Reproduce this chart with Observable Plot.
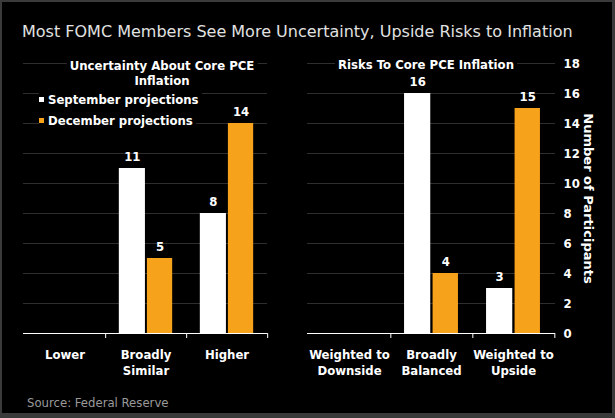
<!DOCTYPE html>
<html>
<head>
<meta charset="utf-8">
<script src="https://cdn.jsdelivr.net/npm/d3@7"></script>
<script src="https://cdn.jsdelivr.net/npm/@observablehq/plot@0.6"></script>
<style>
  html, body { margin: 0; padding: 0; background: #3a3a3a; }
  #frame { position: absolute; left: 2px; top: 2px; width: 610px; height: 411px; background: #000; overflow: hidden; }
  #wrap { position: absolute; left: -2px; top: -2px; width: 615px; height: 418px; }
  .abs { position: absolute; white-space: nowrap; }
  .title { left: 22px; top: 22px; font: 16px "DejaVu Sans", sans-serif; color: #e2e2e2; }
  .ptitle { font: bold 13px "DejaVu Sans Condensed", "DejaVu Sans", sans-serif; color: #fff; background: #000; text-align: center; padding: 0 3px; line-height: 15px; transform: translateX(-50%); }
  .legend { font: bold 13px "DejaVu Sans Condensed", "DejaVu Sans", sans-serif; color: #fff; background: #000; line-height: 15px; padding-right: 3px; }
  .sw { display: inline-block; width: 5px; height: 5px; margin-right: 4px; vertical-align: middle; position: relative; top: -1px; }
  .source { left: 27px; top: 395px; font: 13px "DejaVu Sans Condensed", "DejaVu Sans", sans-serif; color: #9a9a9a; }
  svg { position: absolute; left: 0; top: 0; }
</style>
</head>
<body>
<div id="frame"><div id="wrap"></div></div>
<script>
// ---- data ----
const leftTitle = "Uncertainty About Core PCE\nInflation";
const rightTitle = "Risks To Core PCE Inflation";
const seriesNames = ["September projections", "December projections"];
const leftCats = ["Lower", "Broadly\nSimilar", "Higher"];
const leftSep = [0, 11, 8];
const leftDec = [0, 5, 14];
const rightCats = ["Weighted to\nDownside", "Broadly\nBalanced", "Weighted to\nUpside"];
const rightSep = [0, 16, 3];
const rightDec = [0, 4, 15];
const yTicks = [0, 2, 4, 6, 8, 10, 12, 14, 16, 18];
const yLabel = "Number of Participants";
const titleText = "Most FOMC Members See More Uncertainty, Upside Risks to Inflation";
const sourceText = "Source: Federal Reserve";

const WHITE = "#ffffff", ORANGE = "#f7a21b", GRID = "#2e2e2e";
const W = 615, H = 418, MT = 63, MB = 85;
const FONT = '"DejaVu Sans Condensed", "DejaVu Sans", sans-serif';

function panel(cats, sep, dec, ml, mr, withAxis) {
  const data = cats.map((c, i) => ({cat: c, sep: sep[i], dec: dec[i]}));
  const bw = (W - ml - mr) / cats.length;
  const marks = [
    Plot.gridY(yTicks, {stroke: GRID, strokeOpacity: 1}),
    Plot.barY(data, {x: "cat", y: "sep", fill: WHITE, insetLeft: 0.17 * bw, insetRight: 0.505 * bw}),
    Plot.barY(data, {x: "cat", y: "dec", fill: ORANGE, insetLeft: 0.515 * bw, insetRight: 0.17 * bw}),
    Plot.text(data.filter(d => d.sep > 0), {x: "cat", y: "sep", text: "sep", dy: -12, dx: -0.1675 * bw, fill: WHITE}),
    Plot.text(data.filter(d => d.dec > 0), {x: "cat", y: "dec", text: "dec", dy: -12, dx: 0.1725 * bw, fill: WHITE}),
    Plot.ruleY([0], {stroke: WHITE, strokeWidth: 1}),
    Plot.ruleX(cats, {x: d => d, y1: 0, y2: 0, dx: bw / 2, insetBottom: -5, stroke: WHITE}),
    Plot.axisX({tickSize: 0, tickPadding: 13, lineHeight: 1.3, fill: WHITE})
  ];
  if (withAxis) {
    marks.push(Plot.axisY({anchor: "right", ticks: yTicks, tickSize: 0, tickPadding: 8, label: null, fill: WHITE}));
    marks.push(Plot.text([yLabel], {frameAnchor: "right", dx: 33, rotate: 90, textAnchor: "middle", lineAnchor: "middle", fill: WHITE, fontSize: 13, fontFamily: '"DejaVu Sans", sans-serif'}));
  }
  return Plot.plot({
    width: W, height: H,
    marginLeft: ml, marginRight: mr, marginTop: MT, marginBottom: MB,
    x: {domain: cats, padding: 0, label: null},
    y: {domain: [0, 18], label: null, axis: null},
    style: {background: "transparent", color: WHITE, fontFamily: FONT, fontSize: "13px", fontWeight: "bold", overflow: "visible"},
    marks
  });
}

const wrap = document.getElementById("wrap");
wrap.appendChild(panel(leftCats, leftSep, leftDec, 23, W - 267, false));
wrap.appendChild(panel(rightCats, rightSep, rightDec, 307, W - 555, true));

function addDiv(cls, html, style) {
  const d = document.createElement("div");
  d.className = "abs " + cls;
  d.innerHTML = html;
  Object.assign(d.style, style || {});
  wrap.appendChild(d);
  return d;
}
addDiv("title", titleText);
addDiv("ptitle", leftTitle.replace("\n", "<br>"), {left: "162px", top: "58px"});
addDiv("ptitle", rightTitle, {left: "426px", top: "57px"});
addDiv("legend", `<span class="sw" style="background:${WHITE}"></span>${seriesNames[0]}`, {left: "39px", top: "92px"});
addDiv("legend", `<span class="sw" style="background:${ORANGE}"></span>${seriesNames[1]}`, {left: "39px", top: "113px"});
addDiv("source", sourceText);
</script>
</body>
</html>
